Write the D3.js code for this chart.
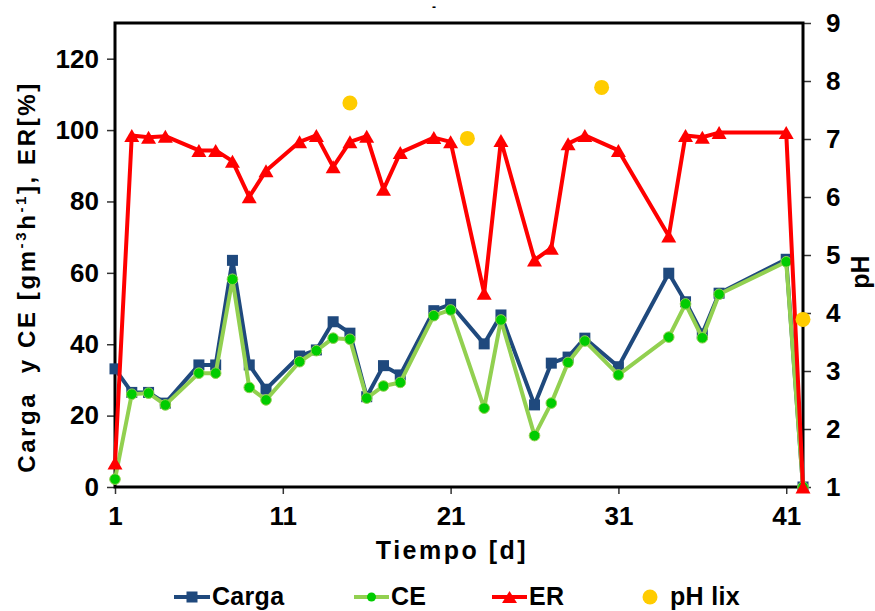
<!DOCTYPE html>
<html><head><meta charset="utf-8">
<script src="https://cdn.jsdelivr.net/npm/d3@7"></script>
<style>
body{margin:0;background:#fff;}
text{font-family:"Liberation Sans",Arial,sans-serif;font-weight:bold;fill:#000;}
</style></head>
<body><svg id="c" width="875" height="611"></svg>
<script>
const days = [1,2,3,4,6,7,8,9,10,12,13,14,15,16,17,18,20,21,23,24,26,27,28,29,31,34,35,36,37,41,42];
const carga = [33.1,26.5,26.5,23.5,34.2,34.2,63.5,34.2,27.4,36.7,38.4,46.3,43.1,25.3,34,31.4,49.4,51.2,40.1,48.2,23,34.7,36.4,41.7,33.7,59.9,51.9,42.9,54.3,63.8,0];
const ce = [2.2,26,26.3,23,31.9,31.9,58.2,27.9,24.4,35.1,38.2,41.7,41.4,24.9,28.3,29.3,48,49.6,22.1,46.8,14.4,23.5,34.9,40.9,31.4,42,51.3,41.8,54,63.1,0];
const er = [6.7,98.5,98,98.3,94.3,94.3,91.3,81.3,88.6,96.7,98.5,89.7,96.7,98.3,83.4,93.7,97.9,96.7,54.3,97.1,63.6,66.9,96.2,98.5,94.3,70.3,98.5,98,99.3,99.3,0];
const phDays = [15,22,30,42];
const phLix = [7.62,7.01,7.89,3.89];
const xTicks = [1,11,21,31,41];
const yLeftTicks = [0,20,40,60,80,100,120];
const yRightTicks = [1,2,3,4,5,6,7,8,9];
const seriesNames = ["Carga","CE","ER","pH lix"];

const svg = d3.select("#c");
const L=115, R=803, T=23, B=487;
const x = d3.scaleLinear().domain([1,42]).range([L,R]);
const yL = d3.scaleLinear().domain([0,130]).range([B,T]);
const yR = d3.scaleLinear().domain([1,9]).range([B,T]);

const cBlue="#1F497D", cGreenLine="#92D050", cGreen="#00CC00", cRed="#FF0000", cYellow="#FFCC00";

// axes
const gl = svg.append("g").attr("transform",`translate(${L},0)`)
  .call(d3.axisLeft(yL).tickValues(yLeftTicks).tickSize(8).tickPadding(8).tickSizeOuter(0));
const gr = svg.append("g").attr("transform",`translate(${R},0)`)
  .call(d3.axisRight(yR).tickValues(yRightTicks).tickSize(8).tickPadding(15).tickSizeOuter(0));
const gb = svg.append("g").attr("transform",`translate(0,${B})`)
  .call(d3.axisBottom(x).tickValues(xTicks).tickFormat(d3.format("d")).tickSize(7).tickPadding(13).tickSizeOuter(0));
[gl,gr,gb].forEach(g=>{
  g.select(".domain").remove();
  g.selectAll(".tick line").attr("stroke","#333").attr("stroke-width",1.5);
  g.selectAll(".tick text").style("font-size","26px").style("font-family",'"Liberation Sans",Arial,sans-serif').style("font-weight","bold").attr("fill","#000");
});
gr.selectAll(".tick text").attr("text-anchor","start");
// frame
svg.append("rect").attr("x",L).attr("y",T).attr("width",R-L).attr("height",B-T)
  .attr("fill","none").attr("stroke","#000").attr("stroke-width",3);

// lines
const lineFn = (ys, sc) => d3.line().x((d,i)=>x(days[i])).y((d,i)=>sc(ys[i]));
const idx = days.map((d,i)=>i);
svg.append("path").datum(idx).attr("d",lineFn(carga,yL)).attr("fill","none").attr("stroke",cBlue).attr("stroke-width",4).attr("stroke-linejoin","round");
svg.selectAll(".sq").data(idx).join("rect").attr("class","sq")
  .attr("x",i=>x(days[i])-5.5).attr("y",i=>yL(carga[i])-5.5).attr("width",11).attr("height",11).attr("fill",cBlue);

svg.append("path").datum(idx).attr("d",lineFn(ce,yL)).attr("fill","none").attr("stroke",cGreenLine).attr("stroke-width",4).attr("stroke-linejoin","round");
svg.selectAll(".ci").data(idx).join("circle").attr("class","ci")
  .attr("cx",i=>x(days[i])).attr("cy",i=>yL(ce[i])).attr("r",5.3).attr("fill",cGreen).attr("stroke",cGreenLine).attr("stroke-width",1);

svg.append("path").datum(idx).attr("d",lineFn(er,yL)).attr("fill","none").attr("stroke",cRed).attr("stroke-width",4).attr("stroke-linejoin","round");
const tri = (cx,cy,w,h)=>`M${cx},${cy-h/2}L${cx+w/2},${cy+h/2}L${cx-w/2},${cy+h/2}Z`;
svg.selectAll(".tr").data(idx).join("path").attr("class","tr")
  .attr("d",i=>tri(x(days[i]),yL(er[i]),15,13)).attr("fill",cRed);

svg.selectAll(".ph").data(phDays).join("circle").attr("class","ph")
  .attr("cx",(d)=>x(d)).attr("cy",(d,i)=>yR(phLix[i])).attr("r",7.5).attr("fill",cYellow);

// titles
svg.append("text").attr("x",434).attr("y",11).attr("text-anchor","middle").style("font-size","12px").text("-");
svg.append("text").attr("x",452).attr("y",559).attr("text-anchor","middle").style("font-size","25px").style("letter-spacing","2.5px").text("Tiempo [d]");
const yt = svg.append("text").attr("transform","translate(35,277) rotate(-90)").attr("text-anchor","middle").style("font-size","24px").style("letter-spacing","2.6px");
yt.append("tspan").text("Carga  y CE [gm");
yt.append("tspan").attr("dy",-9).style("font-size","15px").text("-3");
yt.append("tspan").attr("dy",9).text("h");
yt.append("tspan").attr("dy",-9).style("font-size","15px").text("-1");
yt.append("tspan").attr("dy",9).text("], ER[%]");
yt.attr("xml:space","preserve").style("white-space","pre");
svg.append("text").attr("transform","translate(869,272) rotate(-90)").attr("text-anchor","middle").style("font-size","25px").text("pH");

// legend
const ly = 597;
const lg = svg.append("g");
const leg = [
  {x1:174,x2:210,tx:212,col:cBlue,type:"sq"},
  {x1:354,x2:389,tx:391,col:cGreenLine,type:"ci"},
  {x1:492,x2:527,tx:529,col:cRed,type:"tr"},
  {x1:650,x2:650,tx:670,col:cYellow,type:"ph"}
];
leg.forEach((l,i)=>{
  const cx=(l.x1+l.x2)/2;
  if(l.type!=="ph") lg.append("line").attr("x1",l.x1).attr("x2",l.x2).attr("y1",ly).attr("y2",ly).attr("stroke",l.col).attr("stroke-width",4);
  if(l.type==="sq") lg.append("rect").attr("x",cx-5.5).attr("y",ly-5.5).attr("width",11).attr("height",11).attr("fill",cBlue);
  if(l.type==="ci") lg.append("circle").attr("cx",cx).attr("cy",ly).attr("r",4.5).attr("fill",cGreen);
  if(l.type==="tr") lg.append("path").attr("d",tri(cx,ly,15,12)).attr("fill",cRed);
  if(l.type==="ph") lg.append("circle").attr("cx",cx).attr("cy",ly).attr("r",7.5).attr("fill",cYellow);
  lg.append("text").attr("x",l.tx).attr("y",ly+8).style("font-size","25px").style("letter-spacing","0.3px").text(seriesNames[i]);
});
</script></body></html>
